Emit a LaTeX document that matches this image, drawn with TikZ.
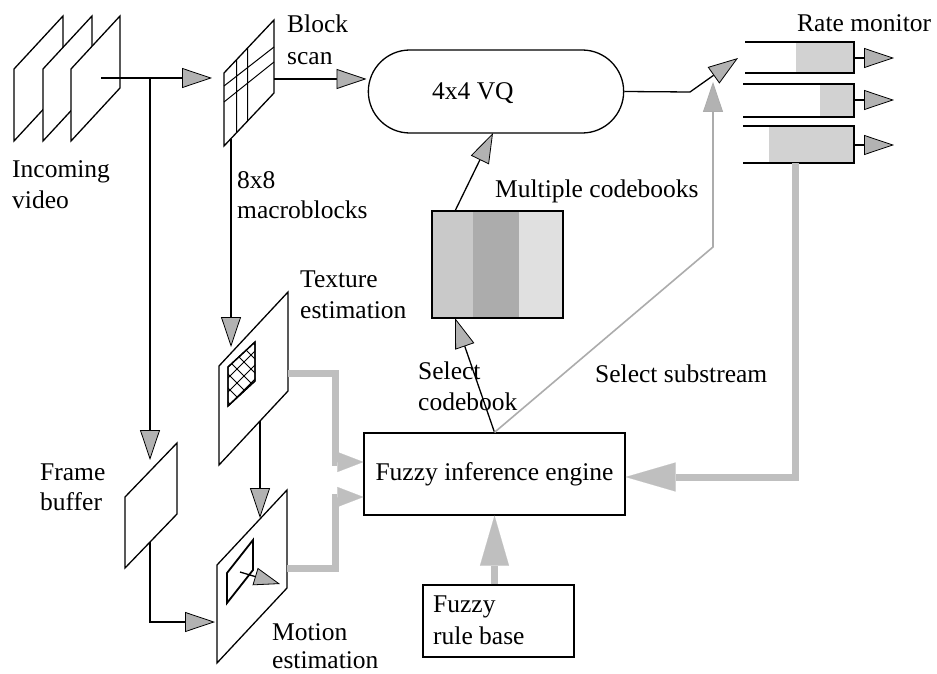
\documentclass[tikz,border=0pt]{standalone}
\usepackage{fontspec}
\setmainfont{Liberation Serif}
\usetikzlibrary{arrows.meta,shapes.misc}
\begin{document}
\begin{tikzpicture}[x=1pt,y=-1pt,
  lbl/.style={font=\fontsize{25.5}{30}\selectfont, inner sep=0pt, anchor=base west},
  ln/.style={line width=1.3pt},
  garrow/.style={ln, -{Triangle[length=30pt,width=20pt,fill=gray!60,line width=0.8pt]}},
  sgarrow/.style={ln, -{Triangle[length=26pt,width=18pt,fill=gray!60,line width=0.8pt]}},
  plane/.style={draw, fill=white, line width=1.3pt, line join=miter},
  fat/.style={line width=7pt, draw=gray!50, line join=miter},
  fatsmall/.style={fat, -{Triangle[length=26pt,width=20pt,fill=gray!50,line width=0.1pt]}},
  fatbig/.style={fat, -{Triangle[length=50pt,width=29pt,fill=gray!50,line width=0.1pt]}},
  buf/.style={fill=gray!35}]
\fill[white] (0,0) rectangle (937,674);
\useasboundingbox (0,0) rectangle (937,674);

% incoming video frames
\foreach \x in {14,43,71}
  \draw[plane] (\x,69) -- ++(49,-53) -- ++(0,72) -- ++(-49,53) -- cycle;
\node[lbl] (incoming1) at (12,177) {Incoming};
\node[lbl] (incoming2) at (12,208) {video};

% block scan grid
\draw[plane] (224,73) -- ++(50,-53) -- ++(0,73) -- ++(-50,53) -- cycle;
\draw[line width=1pt] (224,86) -- (274,47) (224,102) -- (274,62)
  (236.7,60) -- (236.7,133) (247.7,48) -- (247.7,121);
\node[lbl] (block1) at (287,33) {Block};
\node[lbl] (block2) at (287,65) {scan};
\node[lbl] (mb1) at (237,188) {8x8};
\node[lbl] (mb2) at (237,218) {macroblocks};

% VQ
\node[draw, rounded rectangle, minimum width=262pt, minimum height=83pt, line width=1.3pt] (vq) at (496,91.5) {};
\node[lbl] (vqtxt) at (432,100) {4x4 VQ};

% rate monitor buffers
\fill[buf] (796,42) rectangle (854,73);
\draw[ln] (745,42) -- (854,42) -- (854,73) -- (745,73);
\fill[buf] (820,84) rectangle (854,117);
\draw[ln] (743,84) -- (854,84) -- (854,117) -- (743,117);
\fill[buf] (769,126) rectangle (854,163);
\draw[ln] (743,126) -- (854,126) -- (854,163) -- (743,163);
\node[lbl] (rate) at (797,32) {Rate monitor};
\coordinate (b1o) at (854,58); \coordinate (b1t) at (894,58);
\coordinate (b2o) at (854,100); \coordinate (b2t) at (894,100);
\coordinate (b3o) at (854,145); \coordinate (b3t) at (894,145);
\draw[garrow] (b1o) -- (b1t);
\draw[garrow] (b2o) -- (b2t);
\draw[garrow] (b3o) -- (b3t);

% codebooks
\fill[gray!42] (432,211) rectangle (473,318);
\fill[gray!65] (473,211) rectangle (519,318);
\fill[gray!24] (519,211) rectangle (563,318);
\node[draw, line width=1.3pt, minimum width=131pt, minimum height=107pt, inner sep=0pt] (cb) at (497.5,264.5) {};
\node[lbl] (mcb) at (495,197) {Multiple codebooks};

% fuzzy engine
\node[draw, line width=1.3pt, minimum width=261pt, minimum height=82pt, inner sep=0pt, font=\fontsize{25.5}{30}\selectfont] (fie) at (494.5,474) {Fuzzy inference engine};
\node[draw, line width=1.3pt, minimum width=151pt, minimum height=72pt, inner sep=0pt] (rb) at (498.5,621) {};
\node[lbl] (rb1) at (433,612) {Fuzzy};
\node[lbl] (rb2) at (433,644) {rule base};

\node[lbl] (sc1) at (418,379) {Select};
\node[lbl] (sc2) at (418,410) {codebook};
\node[lbl] (ss) at (595,382) {Select substream};

% texture estimation
\draw[plane] (219,366) -- ++(69,-74) -- ++(0,99) -- ++(-69,74) -- cycle;
\draw[plane] (228,367) -- (255,342) -- (255,381) -- (228,406) -- cycle;
\begin{scope}
  \clip (228,367) -- (255,342) -- (255,381) -- (228,406) -- cycle;
  \foreach \k in {-28,-14,...,70} {
    \draw[line width=1pt] (226,330+\k) -- ++(32,32);
    \draw[line width=1pt] (226,380+\k) -- ++(32,-32);
  }
\end{scope}
\draw[line width=1.3pt] (228,367) -- (255,342) -- (255,381) -- (228,406) -- cycle;
\node[lbl] (te1) at (300,287) {Texture};
\node[lbl] (te2) at (300,318) {estimation};

% motion estimation
\draw[plane] (217,565) -- ++(70,-75) -- ++(0,98) -- ++(-70,75) -- cycle;
\draw[line width=1.8pt] (227,573) -- ++(26,-33) -- ++(0,30) -- ++(-26,33) -- cycle;
\coordinate (mvs) at (240,572); \coordinate (mvt) at (280,584);
\draw[sgarrow] (mvs) -- (mvt);
\node[lbl] (me1) at (272,640) {Motion};
\node[lbl] (me2) at (272,668) {estimation};

% frame buffer
\draw[plane] (125,497) -- ++(52,-54) -- ++(0,71) -- ++(-52,54) -- cycle;
\node[lbl] (fb1) at (40,480) {Frame};
\node[lbl] (fb2) at (40,510) {buffer};

% black connectors
\coordinate (vidout) at (101,78);
\coordinate (split) at (150,78);
\coordinate (blockin) at (212,78);
\coordinate (fbtop) at (150,460);
\draw[garrow] (vidout) -- (blockin);
\draw[garrow] (split) -- (fbtop);

\coordinate (blockout) at (274,79);
\coordinate (vqin) at (366.5,79);
\draw[garrow] (blockout) -- (vqin);

\coordinate (blockbot) at (231,139);
\coordinate (texin) at (231,347);
\draw[garrow] (blockbot) -- (texin);

\coordinate (texbot) at (260,421);
\coordinate (motin1) at (260,518);
\draw[garrow] (texbot) -- (motin1);

\coordinate (fbout) at (150,542);
\coordinate (fbc) at (150,622);
\coordinate (motin2) at (215,622);
\draw[garrow] (fbout) -- (fbc) -- (motin2);

\coordinate (sw) at (690,92);
\coordinate (swtip) at (738,58);
\draw[garrow] (vq.east) -- (sw) -- (swtip);

\coordinate (cbtop) at (455,211);
\coordinate (vqbot) at (493,133);
\draw[garrow] (cbtop) -- (vqbot);

\coordinate (cbbot) at (455,318);
\draw[garrow] (fie.north) -- (cbbot);

\coordinate (bend) at (713,247);
\coordinate (swin) at (713,82);
\draw[garrow, draw=gray!65, line width=1.6pt] (fie.north) -- (bend) -- (swin);

% fat gray connectors
\coordinate (texout) at (288,373);
\coordinate (motout) at (287,568);
\draw[fatsmall] (texout) -| (335,462) -- ([yshift=12pt]fie.west);
\draw[fatsmall] (motout) -| (335,497) -- ([yshift=-23pt]fie.west);
\draw[fatbig] (fie.south |- rb.north) -- (fie.south);
\coordinate (b3bot) at (795,163);
\coordinate (fbcorner) at (795,477);
\draw[fatbig] (b3bot) -- (fbcorner) -- (fie.east |- fbcorner);
\end{tikzpicture}
\end{document}
